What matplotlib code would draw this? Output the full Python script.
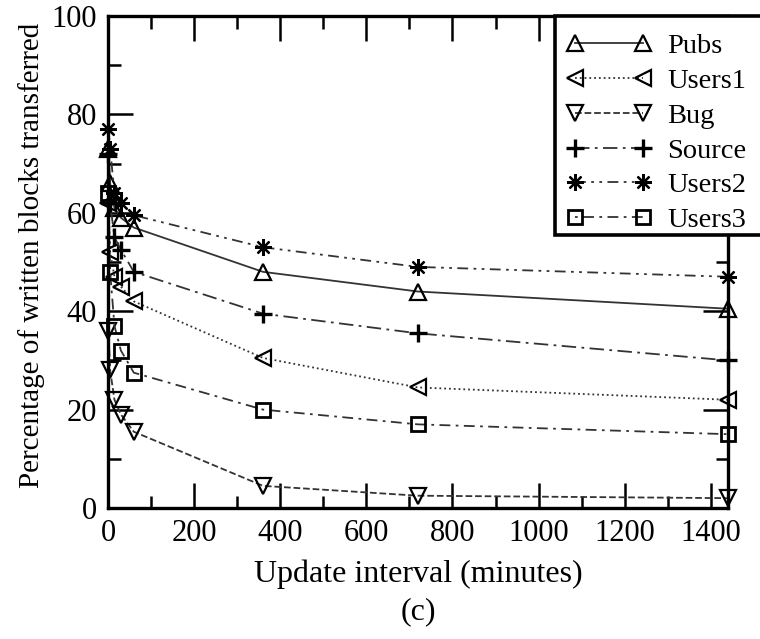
"""Percentage of written blocks transferred vs. update interval, panel (c)."""

import matplotlib.pyplot as plt
from matplotlib.patches import Rectangle
from matplotlib.ticker import MultipleLocator

plt.rcParams['font.family'] = ['Liberation Serif', 'DejaVu Serif']

# update intervals (minutes)
intervals = [1, 5, 15, 30, 60, 360, 720, 1440]

# percentage of written blocks transferred, per trace
pubs = [73, 66, 61, 59, 57, 48, 44, 40.5]
users1 = [62, 52, 47, 45, 42, 30.5, 24.5, 22]
bug = [36, 28, 22, 19, 15.5, 4.5, 2.5, 2]
source = [72, 62, 55, 52.5, 48, 39.5, 35.5, 30]
users2 = [77, 73, 64, 62, 59.5, 53, 49, 47]
users3 = [64, 48, 37, 32, 27.5, 20, 17, 15]

series = [
    ('Pubs', pubs, '^', '-'),
    ('Users1', users1, '<', ':'),
    ('Bug', bug, 'v', '--'),
    ('Source', source, '+', (0, (8, 3, 1.5, 3))),
    ('Users2', users2, (8, 2, 0), (0, (6, 3, 1.5, 3, 1.5, 3))),
    ('Users3', users3, 's', (0, (1.5, 3, 6, 3))),
]

fig = plt.figure(figsize=(7.6, 6.39), dpi=100)
ax = fig.add_axes([108 / 760, 1 - 508 / 639, 620 / 760, 492 / 639])

for name, vals, marker, ls in series:
    if marker == '+':
        ms, mew = 13, 2.4
    elif marker == 's':
        ms, mew = 10, 2.0
    elif isinstance(marker, tuple):
        ms, mew = 12, 1.6
    else:
        ms, mew = 11, 1.6
    ax.plot(intervals, vals, color='#333333', linestyle=ls, linewidth=1.3,
            marker=marker, markersize=ms, markerfacecolor='none',
            markeredgecolor='black', markeredgewidth=mew,
            label=name, clip_on=False)

ax.set_xlim(0, 1440)
ax.set_ylim(0, 100)
ax.xaxis.set_major_locator(MultipleLocator(200))
ax.xaxis.set_minor_locator(MultipleLocator(100))
ax.yaxis.set_major_locator(MultipleLocator(20))
ax.yaxis.set_minor_locator(MultipleLocator(10))
ax.tick_params(which='both', direction='in', top=True, right=True,
               width=1.8, labelsize=22, pad=8)
ax.tick_params(which='major', length=18)
ax.tick_params(which='minor', length=9)
for sp in ax.spines.values():
    sp.set_linewidth(2.4)

ax.set_xlabel('Update interval (minutes)', fontsize=23, labelpad=8)
ax.set_ylabel('Percentage of written blocks transferred', fontsize=21)
ax.yaxis.set_label_coords(-0.102, 0.514)
fig.text(ax.get_position().x0 + ax.get_position().width / 2, 1 - 612 / 639,
         '(c)', ha='center', va='center', fontsize=23)

# legend box runs off the right edge of the figure, as in the original
leg = fig.legend(loc='upper left', bbox_to_anchor=(555 / 760, 1 - 22 / 639),
                 fontsize=20.5, numpoints=2, handlelength=3.0,
                 handletextpad=0.55, labelspacing=0.31, borderpad=0.4,
                 borderaxespad=0, frameon=False)
fig.patches.append(Rectangle((555 / 760, 1 - 235 / 639), 0.4, 219 / 639,
                             transform=fig.transFigure, facecolor='white',
                             edgecolor='black', linewidth=2.6, zorder=4))
leg.set_zorder(5)

fig.savefig('out.png', dpi=100)
